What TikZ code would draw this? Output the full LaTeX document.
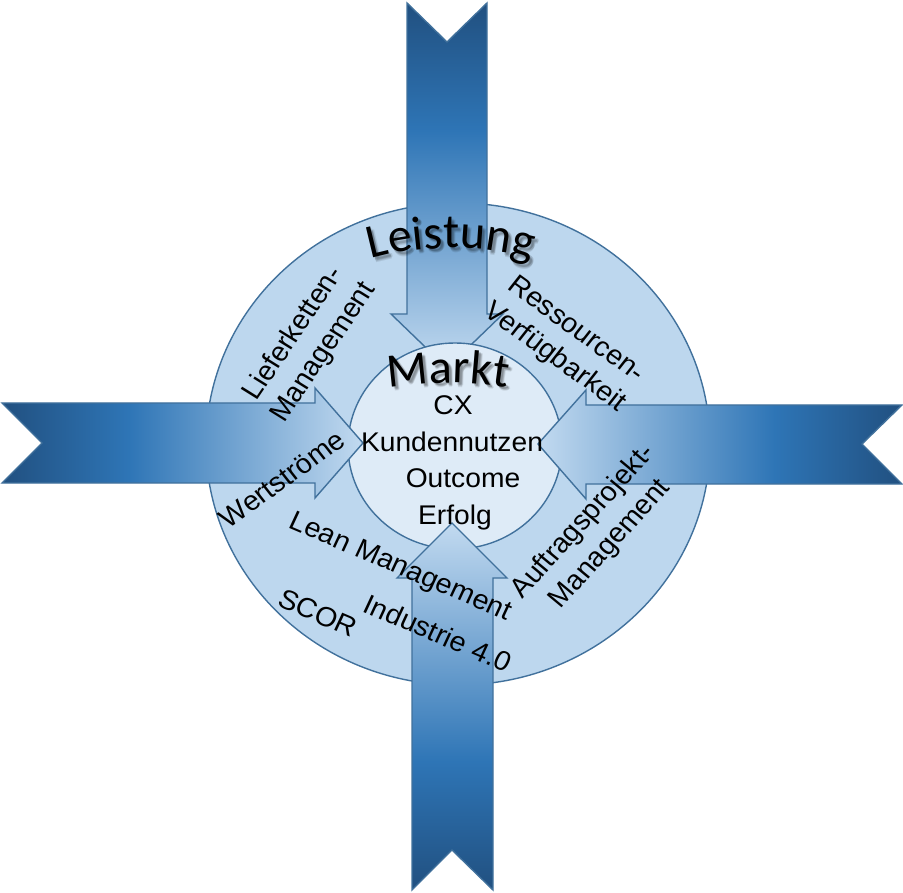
\documentclass[tikz,border=0pt]{standalone}
\usepackage{fontspec}
\setmainfont{Liberation Sans}
\newfontfamily\calib{Carlito}
\usetikzlibrary{decorations.text}
\definecolor{bord}{HTML}{41719C}
\definecolor{bigfill}{HTML}{BDD7EE}
\definecolor{innfill}{HTML}{DEEBF7}
\definecolor{adark}{RGB}{33,80,128}
\definecolor{amid}{HTML}{2E75B6}
\definecolor{alight}{HTML}{C2DAF0}
\pgfdeclareverticalshading{arrowgrad}{100bp}{color(0bp)=(alight); color(25bp)=(alight); color(57.5bp)=(amid); color(75bp)=(adark); color(100bp)=(adark)}
\begin{document}
\begin{tikzpicture}[x=1pt,y=-1pt,
  arrowshape/.style={draw=bord, line width=1.4pt, shading=arrowgrad, line join=miter},
  ringshape/.style={draw=bord, line width=1.4pt},
  lbl/.style={font=\fontsize{27.5}{34}\selectfont, align=center, inner sep=0pt, xscale=1.045},
  clbl/.style={font=\fontsize{27}{30}\selectfont, inner sep=0pt, anchor=base, xscale=1.045},
 ]
\useasboundingbox (0,0) rectangle (903,893);
% big ring
\draw[ringshape, fill=bigfill] (458,444) ellipse [x radius=252, y radius=241];
% top arrow (under inner circle)
\path[arrowshape, shading angle=0] (407,3) -- (447,42) -- (487,3) -- (487,314) -- (503,314) -- (447,368) -- (391,314) -- (407,314) -- cycle;
% inner circle
\draw[ringshape, fill=innfill] (455,446) ellipse [x radius=107, y radius=103];
% left arrow
\path[arrowshape, shading angle=90] (2,403) -- (315,403) -- (315,388) -- (363,443) -- (315,498) -- (315,483) -- (2,483) -- (42,443) -- cycle;
% right arrow
\path[arrowshape, shading angle=-90] (902,405) -- (586,405) -- (586,390) -- (538,444) -- (586,499) -- (586,484) -- (902,484) -- (862,444) -- cycle;
% bottom arrow
\path[arrowshape, shading angle=180] (412,890) -- (452,850) -- (493,890) -- (493,578) -- (507,578) -- (452,523) -- (397,578) -- (412,578) -- cycle;
% shadowed arched titles
\foreach \dx/\dy in {2/2.5, 3/3.5, 4/3, 3/4.5, 2.5/2}{
  \begin{scope}[opacity=0.09, xshift=\dx pt, yshift=-\dy pt]
  \path[decorate, decoration={text along path, text align=center,
     text={|\calib\fontsize{48}{48}\selectfont\color{black}|Leistung}}]
     (451,550) ++(240:302) arc (240:300:302);
  \path[decorate, decoration={text along path, text align=center,
     text={|\calib\fontsize{48}{48}\selectfont\color{black}|Markt}}]
     (448,763) ++(255:380) arc (255:285:380);
  \end{scope}
}
\path[decorate, decoration={text along path, text align=center,
   text={|\calib\fontsize{48}{48}\selectfont|Leistung}}]
   (451,550) ++(240:302) arc (240:300:302);
\path[decorate, decoration={text along path, text align=center,
   text={|\calib\fontsize{48}{48}\selectfont|Markt}}]
   (448,763) ++(255:380) arc (255:285:380);
% centre texts
\node[clbl] (cx) at (453,415) {CX};
\node[clbl] (kn) at (452,452) {Kundennutzen};
\node[clbl] (oc) at (463,487) {Outcome};
\node[clbl] (er) at (455,524) {Erfolg};
% ring texts
\node[lbl, rotate=57] (lief) at (309,343) {Lieferketten-\\Management};
\node[lbl, rotate=-37] (ress) at (565,344) {Ressourcen-\\Verfügbarkeit};
\node[lbl, rotate=37] (wert) at (282,479) {Wertströme};
\node[lbl, rotate=49] (auft) at (597,533) {Auftragsprojekt-\\Management};
\node[lbl, rotate=-24] (lean) at (400,568) {Lean Management};
\node[lbl, rotate=-24] (scor) at (318,613) {SCOR};
\node[lbl, rotate=-24] (ind) at (438,633) {Industrie 4.0};
\end{tikzpicture}
\end{document}
